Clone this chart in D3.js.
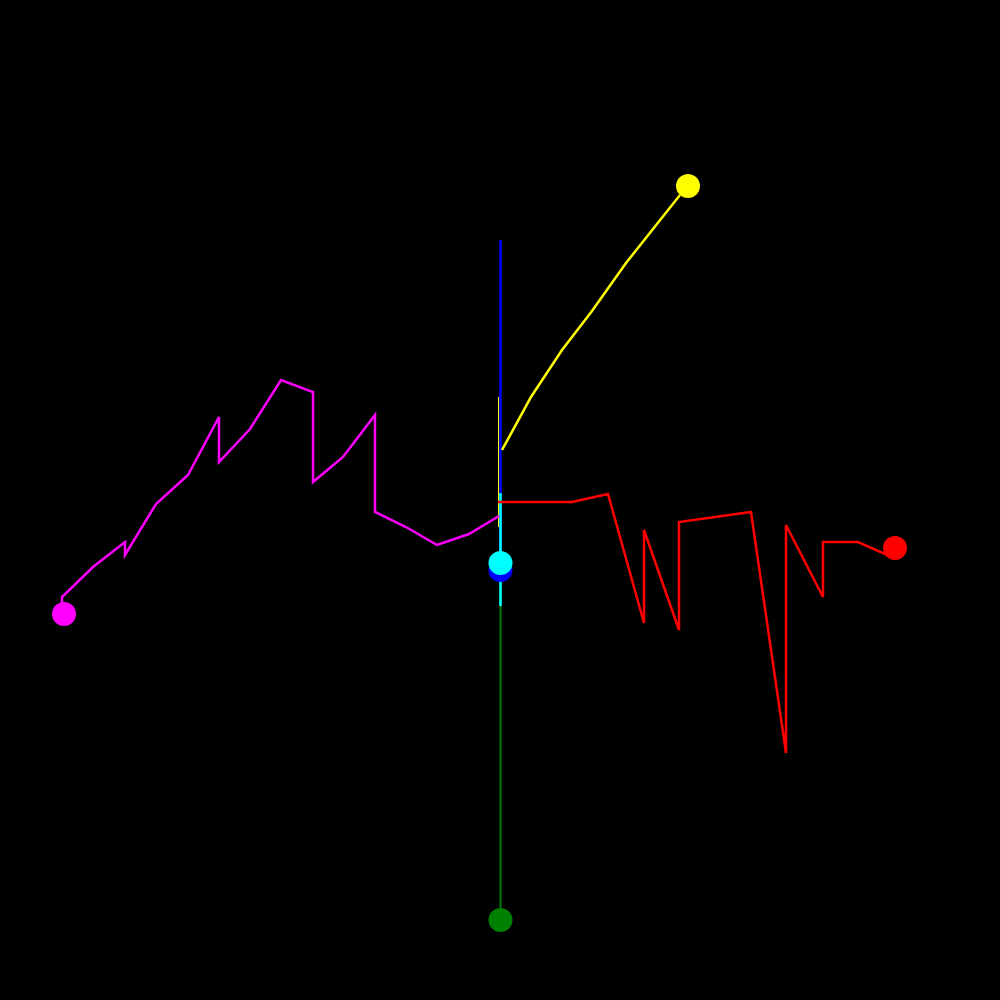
<!DOCTYPE html>
<html>
<head>
<meta charset="utf-8">
<script src="https://cdn.jsdelivr.net/npm/d3@7"></script>
<style>
  html, body { margin: 0; padding: 0; background: #000; }
  svg { display: block; }
</style>
</head>
<body>
<script>
// Data: positions relative to the centre (x to the right, y upward)
const magentaX = [-1, -31, -63, -94, -125, -125, -157, -187, -187, -219, -250, -281, -281, -312, -344, -375, -375, -407, -438, -438];
const magentaY = [-16, -34, -45, -27, -12, 85, 43, 18, 108, 120, 71, 38, 83, 25, -4, -55, -42, -67, -97, -105];
const magentaEnd = [-436, -114];

const redX = [-2, 72, 108, 144, 144, 179, 179, 251, 286, 286, 323, 323, 358, 394];
const redY = [-2, -2, 6, -123, -30, -130, -22, -12, -253, -25, -97, -42, -42, -58];
const redEnd = [395, -48];

const yellowX = [2, 31, 62, 92, 126, 180];
const yellowY = [50, 103, 150, 189, 237, 305];
const yellowEnd = [188, 314];
const yellowStemX = [-1.5, -1.5];
const yellowStemY = [103, -27];

const blueX = [0.5, 0.5];
const blueY = [260, -70];
const blueEnd = [0.5, -70];

const cyanX = [0.5, 0.5];
const cyanY = [7, -106];
const cyanEnd = [0.5, -63];

const greenX = [0.5, 0.5];
const greenY = [0, -420];
const greenEnd = [0.5, -420];

const W = 1000, H = 1000;
const x = d3.scaleLinear().domain([-500, 500]).range([0, W]);
const y = d3.scaleLinear().domain([500, -500]).range([0, H]);

const svg = d3.select("body").append("svg").attr("width", W).attr("height", H);
svg.append("rect").attr("width", W).attr("height", H).attr("fill", "#000");

const line = d3.line().x(d => x(d[0])).y(d => y(d[1]));
const zip = (xs, ys) => xs.map((v, i) => [v, ys[i]]);

const lines = [
  { xs: greenX, ys: greenY, color: "#008000", w: 2 },
  { xs: blueX, ys: blueY, color: "#0000ff", w: 2.5 },
  { xs: cyanX, ys: cyanY, color: "#00ffff", w: 2.5 },
  { xs: yellowStemX, ys: yellowStemY, color: "#ffff00", w: 1 },
  { xs: yellowX, ys: yellowY, color: "#ffff00", w: 2.5 },
  { xs: redX, ys: redY, color: "#ff0000", w: 2.5 },
  { xs: magentaX, ys: magentaY, color: "#ff00ff", w: 2.5 }
];

svg.selectAll("path.series").data(lines).join("path")
  .attr("class", "series")
  .attr("d", d => line(zip(d.xs, d.ys)))
  .attr("fill", "none")
  .attr("stroke", d => d.color)
  .attr("stroke-width", d => d.w)
  .attr("stroke-linejoin", "miter");

const ends = [
  { p: greenEnd, color: "#008000" },
  { p: blueEnd, color: "#0000ff" },
  { p: cyanEnd, color: "#00ffff" },
  { p: yellowEnd, color: "#ffff00" },
  { p: redEnd, color: "#ff0000" },
  { p: magentaEnd, color: "#ff00ff" }
];

svg.selectAll("circle.end").data(ends).join("circle")
  .attr("class", "end")
  .attr("cx", d => x(d.p[0]))
  .attr("cy", d => y(d.p[1]))
  .attr("r", 12)
  .attr("fill", d => d.color);
</script>
</body>
</html>
